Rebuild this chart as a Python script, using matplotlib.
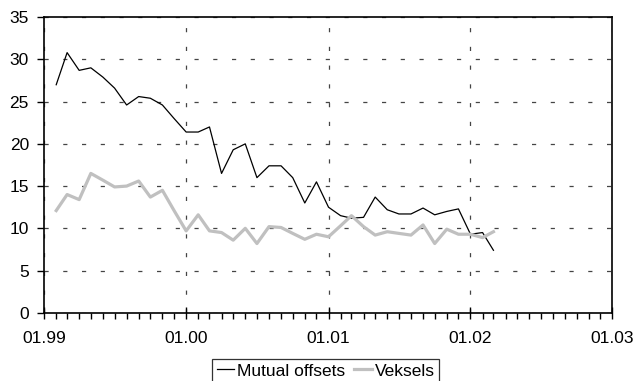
import numpy as np
import pandas as pd
import matplotlib
matplotlib.use("Agg")
import matplotlib.pyplot as plt
import matplotlib.dates as mdates

plt.rcParams['font.family'] = ['Liberation Sans', 'DejaVu Sans']
plt.rcParams['font.size'] = 12.5
plt.rcParams['lines.scale_dashes'] = False

# monthly observations, Feb 1999 - Mar 2002
months = pd.date_range('1999-02-01', periods=38, freq='MS')

mutual_offsets = [27.0, 30.8, 28.7, 29.0, 27.9, 26.6, 24.6, 25.6, 25.4, 24.6,
                  23.0, 21.4, 21.4, 22.0, 16.5, 19.3, 20.0, 16.0, 17.4, 17.4,
                  16.0, 13.0, 15.5, 12.5, 11.5, 11.2, 11.3, 13.7, 12.2, 11.7,
                  11.7, 12.4, 11.6, 12.0, 12.3, 9.3, 9.5, 7.4]

veksels = [12.1, 14.0, 13.4, 16.5, 15.7, 14.9, 15.0, 15.6, 13.7, 14.5,
           12.1, 9.7, 11.6, 9.7, 9.5, 8.6, 10.0, 8.2, 10.2, 10.1,
           9.4, 8.7, 9.3, 9.0, 10.3, 11.5, 10.2, 9.2, 9.6, 9.4,
           9.2, 10.4, 8.2, 9.9, 9.3, 9.3, 8.9, 9.6]

fig = plt.figure(figsize=(6.4, 3.81), dpi=100)
ax = fig.add_axes([0.069, 0.179, 0.888, 0.776])

ax.plot(months, mutual_offsets, color='black', lw=0.9, label='Mutual offsets')
ax.plot(months, veksels, color='#c0c0c0', lw=2.3, label='Veksels')

ax.set_xlim(pd.Timestamp('1999-01-01'), pd.Timestamp('2003-01-01'))
ax.set_ylim(0, 35)
ax.set_yticks(np.arange(0, 36, 5))

ax.xaxis.set_major_locator(mdates.YearLocator())
ax.xaxis.set_minor_locator(mdates.MonthLocator())
ax.xaxis.set_major_formatter(mdates.DateFormatter('%m.%y'))

ax.tick_params(axis='x', which='major', direction='inout', length=8, width=1, pad=9)
ax.tick_params(axis='x', which='minor', direction='out', length=4, width=1)
ax.tick_params(axis='y', direction='out', length=5, width=1, pad=6)

for s in ax.spines.values():
    s.set_linewidth(1.2)
    s.set_color('black')

# dashed grid at years and every 5 units
ax.grid(True, which='major', color='#444444', lw=0.9, linestyle=(0, (3.0, 10.5)))
ax.set_axisbelow(True)

leg = fig.legend(loc='upper center', bbox_to_anchor=(0.509, 0.0577), ncol=2,
                 frameon=True, fancybox=False, edgecolor='black',
                 handlelength=1.0, handletextpad=0.2, columnspacing=0.5,
                 borderpad=0.25, borderaxespad=0)
leg.get_frame().set_linewidth(0.9)

fig.savefig('out.png', dpi=100)
